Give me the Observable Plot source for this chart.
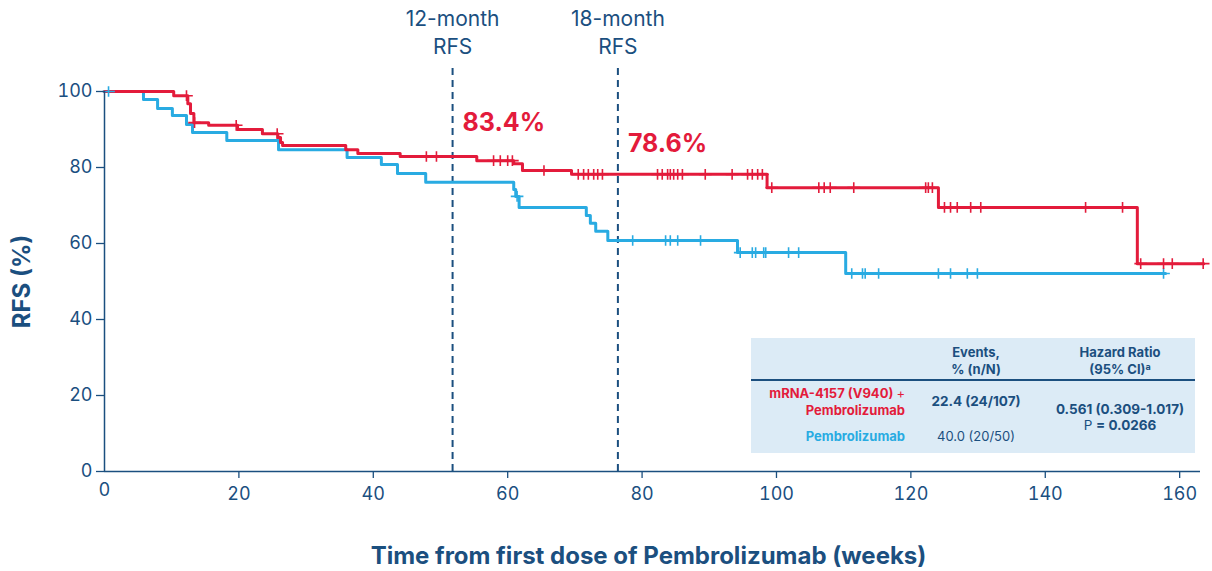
<!DOCTYPE html>
<html>
<head>
<meta charset="utf-8">
<script src="https://cdn.jsdelivr.net/npm/d3@7"></script>
<script src="https://cdn.jsdelivr.net/npm/@observablehq/plot@0.6"></script>
<style>
  html, body { margin: 0; padding: 0; background: #fff; }
  #wrap { position: relative; width: 1212px; height: 571px; font-family: Inter, "Open Sans", sans-serif; }
  #tbl { position: absolute; left: 751px; top: 338px; width: 444px; height: 115px; background: #dcebf6; color: #1b4f7f; font-size: 13px; }
  #tbl span { position: absolute; white-space: nowrap; line-height: 17px; }
  #tbl sup { font-size: 9px; line-height: 0; vertical-align: 4px; }
</style>
</head>
<body>
<div id="wrap"></div>
<script>
// ---- Data ----
const navy = "#1b4f7f";
const redCol = "#e31b3b";
const blueCol = "#29abe2";

// mRNA-4157 (V940) + Pembrolizumab : KM step points
const comboTimes = [0, 10.3, 12.4, 12.8, 13.3, 15.5, 19.8, 23.5, 25.8, 26.2, 26.5, 35.9, 37.7, 44.0, 55.4, 60.9, 62.2, 69.5, 98.6, 124.1, 153.7, 163.6];
const comboSurv  = [100, 98.9, 96.8, 94.2, 91.8, 91.1, 90.0, 88.9, 87.9, 86.6, 85.8, 84.7, 83.7, 82.9, 81.8, 81.0, 79.2, 78.2, 74.7, 69.5, 54.7, 54.7];
const comboCensor = [12.2, 13.4, 19.6, 25.7, 47.9, 49.4, 57.9, 58.9, 60.0, 60.7, 65.4, 70.5, 71.3, 72.0, 72.8, 73.4, 74.1, 82.3, 83.0, 83.8, 84.2, 84.7, 85.3, 86.0, 89.4, 93.4, 95.7, 96.4, 97.2, 97.9, 99.3, 106.3, 107.1, 108.0, 111.5, 122.2, 122.6, 123.2, 125.0, 125.9, 126.9, 128.9, 130.4, 146.0, 151.5, 154.2, 157.6, 158.9, 163.5];

// Pembrolizumab : KM step points
const pembroTimes = [0, 5.8, 7.9, 10.1, 12.2, 13.1, 18.2, 25.9, 36.1, 41.2, 43.6, 47.8, 60.9, 61.2, 61.7, 71.7, 72.3, 73.1, 74.9, 94.2, 110.3, 157.9];
const pembroSurv  = [100, 97.9, 95.5, 93.7, 91.3, 89.2, 87.1, 84.7, 82.6, 80.8, 78.4, 76.1, 74.2, 72.4, 69.5, 67.4, 65.3, 63.2, 60.8, 57.6, 52.1, 52.1];
const pembroCensor = [0.6, 61.4, 78.6, 83.5, 84.2, 85.3, 88.7, 94.6, 96.4, 96.9, 98.1, 98.4, 101.8, 103.3, 111.2, 112.8, 113.2, 115.2, 124.1, 125.9, 128.4, 129.9, 157.6];

// Landmark annotations
const landmarkWeeks = [51.8, 76.4];
const landmarkLabels = ["12-month\nRFS", "18-month\nRFS"];
const landmarkValues = ["83.4%", "78.6%"];
const landmarkValueY = [91.8, 86.3];

const xTicks = [0, 20, 40, 60, 80, 100, 120, 140, 160];
const yTicks = [0, 20, 40, 60, 80, 100];

// Table text
const tblHeaders = [["Events,", "% (n/N)"], ["Hazard Ratio", "(95% CI)<sup>a</sup>"]];
const tblRows = [
  {arm: ["mRNA-4157 (V940) <span style='position:static;font-weight:400'>+</span>", "Pembrolizumab"], events: "22.4 (24/107)", color: redCol, bold: true},
  {arm: ["Pembrolizumab"], events: "40.0 (20/50)", color: blueCol, bold: false}
];
const tblHR = "0.561 (0.309-1.017)";
const tblP = "0.0266";

// ---- Build tables for the library ----
const toSteps = (t, s) => t.map((x, i) => ({time: x, surv: s[i]}));
const combo = toSteps(comboTimes, comboSurv);
const pembro = toSteps(pembroTimes, pembroSurv);
const lookup = (steps) => (t) => { let v = steps[0].surv; for (const p of steps) { if (p.time <= t) v = p.surv; } return v; };
const lc = lookup(combo), lp = lookup(pembro);
const comboC = comboCensor.map(t => ({time: t, surv: lc(t)}));
const pembroC = pembroCensor.map(t => ({time: t, surv: lp(t)}));
const landmarks = landmarkWeeks.map((w, i) => ({week: w, label: landmarkLabels[i], value: landmarkValues[i], vy: landmarkValueY[i]}));

const plusSym = { draw(ctx, size) { const r = Math.sqrt(size) / 2; ctx.moveTo(-r - 1, 0); ctx.lineTo(r + 1, 0); ctx.moveTo(0, -r); ctx.lineTo(0, r); } };

const chart = Plot.plot({
  width: 1212,
  height: 571,
  marginLeft: 104,
  marginRight: 12,
  marginTop: 91,
  marginBottom: 100,
  style: {fontFamily: "Inter, 'Open Sans', sans-serif", color: navy, background: "transparent", overflow: "visible"},
  x: {domain: [0, 163.1]},
  y: {domain: [0, 100]},
  marks: [
    Plot.ruleX(landmarks, {x: "week", y1: 0, y2: 107.4, stroke: navy, strokeWidth: 2, strokeDasharray: "7,5", clip: false}),
    Plot.line(pembro, {x: "time", y: "surv", curve: "step-after", stroke: blueCol, strokeWidth: 3}),
    Plot.line(combo, {x: "time", y: "surv", curve: "step-after", stroke: redCol, strokeWidth: 3}),
    Plot.dot(pembroC, {x: "time", y: "surv", symbol: plusSym, r: 6, stroke: blueCol, strokeWidth: 1.6, fill: "none"}),
    Plot.dot(comboC, {x: "time", y: "surv", symbol: plusSym, r: 6, stroke: redCol, strokeWidth: 1.6, fill: "none"}),
    Plot.axisY({ticks: yTicks, tickSize: 8, tickPadding: 4, fontSize: 18, label: null, stroke: navy, strokeWidth: 1.3}),
    Plot.axisX({ticks: xTicks.filter(d => d > 0), tickSize: 7, tickPadding: 9, fontSize: 18, label: null, stroke: navy, strokeWidth: 1.3, tickFormat: d => d}),
    Plot.text([0], {x: d => d, frameAnchor: "bottom", dy: 24, text: d => String(d), fontSize: 18, fill: navy}),
    Plot.ruleY([0], {stroke: navy, strokeWidth: 1.5}),
    Plot.ruleX([0], {stroke: navy, strokeWidth: 1.5}),
    Plot.text(landmarks, {x: "week", y: 116, text: "label", fontSize: 21, fill: navy, lineHeight: 1.34, clip: false}),
    Plot.text(landmarks, {x: "week", y: "vy", text: "value", dx: 10, textAnchor: "start", fontSize: 25, fontWeight: "bold", fill: redCol}),
    Plot.text(["RFS (%)"], {frameAnchor: "left", dx: -82, rotate: -90, textAnchor: "middle", lineAnchor: "middle", fontSize: 24, fontWeight: "bold", fill: navy}),
    Plot.text(["Time from first dose of Pembrolizumab (weeks)"], {frameAnchor: "bottom", dx: -4, dy: 85, textAnchor: "middle", lineAnchor: "middle", fontSize: 24, fontWeight: "bold", fill: navy})
  ]
});

const wrap = document.getElementById("wrap");
wrap.appendChild(chart);
chart.style.position = "absolute"; chart.style.left = "0"; chart.style.top = "0";

// ---- Table overlay ----
const tbl = document.createElement("div");
tbl.id = "tbl";
let html = "";
const colX = [225, 369];
tblHeaders.forEach((lines, i) => {
  lines.forEach((t, j) => {
    html += `<span style="left:${colX[i] - 100}px;width:200px;text-align:center;top:${6 + j * 17}px;font-weight:700">${t}</span>`;
  });
});
html += `<div style="position:absolute;left:0;top:41px;width:444px;height:1.5px;background:${navy}"></div>`;
const r0 = tblRows[0], r1 = tblRows[1];
r0.arm.forEach((t, j) => {
  html += `<span style="right:${444 - 154}px;text-align:right;top:${47 + j * 17}px;font-weight:700;color:${r0.color}">${t}</span>`;
});
html += `<span style="left:${colX[0] - 100}px;width:200px;text-align:center;top:55px;font-weight:700;font-size:13.5px">${r0.events}</span>`;
r1.arm.forEach((t, j) => {
  html += `<span style="right:${444 - 154}px;text-align:right;top:${90 + j * 17}px;font-weight:700;color:${r1.color}">${t}</span>`;
});
html += `<span style="left:${colX[0] - 100}px;width:200px;text-align:center;top:90px;font-weight:400">${r1.events}</span>`;
html += `<span style="left:${colX[1] - 110}px;width:220px;text-align:center;top:63px;font-weight:700;font-size:13.5px">${tblHR}</span>`;
html += `<span style="left:${colX[1] - 110}px;width:220px;text-align:center;top:79px;font-size:13.5px"><span style="position:static">P </span><b>= ${tblP}</b></span>`;
tbl.innerHTML = html;
wrap.appendChild(tbl);
</script>
</body>
</html>
